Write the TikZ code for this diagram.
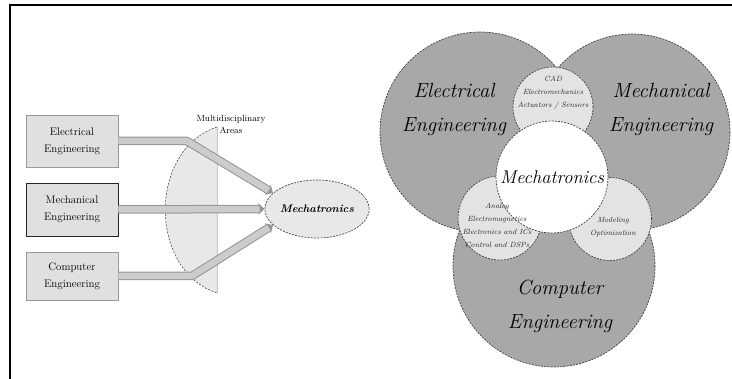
\documentclass[tikz,border=0pt]{standalone}
\usetikzlibrary{shapes.geometric,arrows.meta}
\definecolor{bigfill}{gray}{0.66}
\definecolor{smallfill}{gray}{0.89}
\definecolor{boxfill}{gray}{0.88}
\definecolor{bandout}{gray}{0.58}
\definecolor{bandin}{gray}{0.80}
\definecolor{lensfill}{gray}{0.91}
\tikzset{
  engbox/.style={draw=gray!80, line width=0.8pt, fill=boxfill, minimum width=92pt, align=center, inner sep=0pt,
     font=\fontsize{11}{17}\selectfont},
  bandouter/.style={draw=bandout, line width=8.5pt, line join=round, -{Triangle[length=6pt,width=11pt]}},
  bandinner/.style={draw=bandin, line width=6.5pt, line join=round, shorten >=5pt},
  bigc/.style={circle, fill=bigfill, minimum size=#1, inner sep=0pt},
  smallc/.style={circle, fill=smallfill, minimum size=#1, inner sep=0pt},
  cborder/.style={draw=black!75, line width=0.7pt, dash pattern=on 2pt off 1.2pt},
  bigtxt/.style={font=\fontsize{20.5}{34}\selectfont\itshape, align=center},
  smalltxt/.style={font=\fontsize{7.5}{13}\selectfont\itshape, align=center, text=black!85},
}
\begin{document}
\begin{tikzpicture}[x=1pt,y=-1pt]
\useasboundingbox (0,0) rectangle (732,379);
% frame
\draw[line width=2pt] (9,5) -- (732,5);
\draw[line width=2pt] (10,4) -- (10,379);

% ---------- left diagram ----------
\coordinate (lt) at (217,127);
\coordinate (lb) at (217,293);
\fill[lensfill] (lt) .. controls (148,150) and (148,270) .. (lb) -- cycle;
\draw[gray!45, line width=0.8pt] (lt) -- (lb);
\draw[black!70, line width=0.6pt, dash pattern=on 2pt off 1.5pt] (lt) .. controls (148,150) and (148,270) .. (lb);
\node[font=\fontsize{9}{12}\selectfont, align=center] (multi) at (231,124) {Multidisciplinary\\Areas};

\node[engbox, minimum height=52pt] (ee) at (72,141) {Electrical\\Engineering};
\node[engbox, minimum height=53pt, draw=black!85] (me) at (72,209.5) {Mechanical\\Engineering};
\node[engbox, minimum height=48pt] (ce) at (72,276) {Computer\\Engineering};

\node[ellipse, draw=black!70, dash pattern=on 2pt off 1.2pt, line width=0.7pt, fill=lensfill,
      minimum width=104pt, minimum height=58pt, inner sep=0pt,
      font=\fontsize{11}{13}\selectfont\bfseries\itshape] (mech) at (317,209) {Mechatronics};

\coordinate (b1) at (187,141);
\coordinate (b3) at (192,276);
\draw[bandouter] (ee.east) -- (b1) -- (mech.160);
\draw[bandinner] (ee.east) -- (b1) -- (mech.160);
\draw[bandouter] (me.east) -- (mech.west);
\draw[bandinner] (me.east) -- (mech.west);
\draw[bandouter] (ce.east) -- (b3) -- (mech.200);
\draw[bandinner] (ce.east) -- (b3) -- (mech.200);

% ---------- right diagram ----------
\node[bigc=202pt] (cc) at (554,266) {};
\node[bigc=200pt] (lc) at (480,132) {};
\node[bigc=196pt] (rc) at (632,132) {};
\draw[cborder] (cc.center) circle (101);
\draw[cborder] (lc.center) circle (100);
\draw[cborder] (rc.center) circle (98);

\node[smallc=80pt, cborder] (cad) at (553,107) {};
\node[smallc=84pt, cborder] (ana) at (500,218) {};
\node[smallc=83pt, cborder] (mod) at (610,219) {};
\node[circle, fill=white, cborder, minimum size=112pt, inner sep=0pt,
      font=\fontsize{18.5}{22}\selectfont\itshape] (mt) at (552,177) {Mechatronics};

\node[bigtxt] (eet) at (454,109) {Electrical\\Engineering};
\node[bigtxt] (met) at (661,109) {Mechanical\\Engineering};
\node[bigtxt] (cet) at (560,306) {Computer\\Engineering};

\node[smalltxt] (cadt) at (553,93) {CAD\\Electromechanics\\Actuators / Sensors};
\node[smalltxt] (anat) at (497,225) {Analog\\Electromagnetics\\Electronics and ICs\\Control and DSPs};
\node[smalltxt] (modt) at (613,227.5) {Modeling\\Optimization};
\end{tikzpicture}
\end{document}
